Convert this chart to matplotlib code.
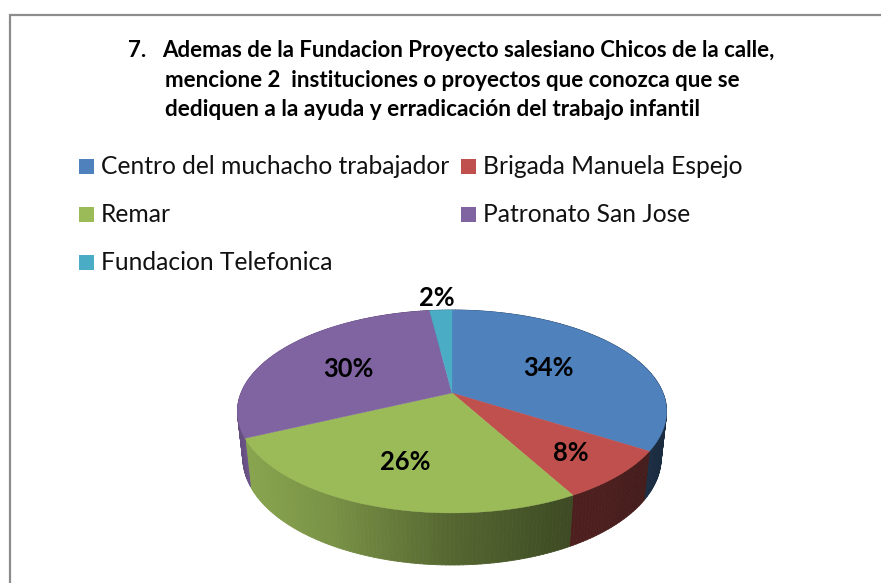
import numpy as np
import matplotlib
matplotlib.use("Agg")
import matplotlib.pyplot as plt
from matplotlib.patches import Rectangle
from matplotlib.collections import PolyCollection
from matplotlib.colors import to_rgb

# ---- data
categories = ["Centro del muchacho trabajador", "Brigada Manuela Espejo", "Remar",
              "Patronato San Jose", "Fundacion Telefonica"]
values = [34, 8, 26, 30, 2]
title_number = "7."
title_lines = ["Ademas de la Fundacion Proyecto salesiano Chicos de la calle,",
               "mencione 2  instituciones o proyectos que conozca que se",
               "dediquen a la ayuda y erradicación del trabajo infantil"]

# ---- style / layout
colors = ["#4F81BD", "#C0504D", "#9BBB59", "#8064A2", "#4BACC6"]
W, H = 881, 583
CX, CY, A, B, K, M, C = 452.0, 393.0, 211.0, 98.1, 0.182, 0.025, 46.9

def project(theta, r=1.0, z=0.0):
    X, Y = r * np.sin(theta), r * np.cos(theta)
    w = 1 + K * Y + M * z
    return CX + A * X / w, CY + (-B * Y + C * z) / w

shade_x = [237, 245, 330, 450, 570, 600, 667]
shade_f = [0.78, 0.88, 0.78, 0.55, 0.40, 0.40, 0.34]

fig = plt.figure(figsize=(W / 100, H / 100), dpi=100, facecolor="white")
ax = fig.add_axes([0, 0, 1, 1])
ax.set_xlim(0, W)
ax.set_ylim(H, 0)
ax.axis("off")

# frame
ax.plot([W, 9.5, 9.5], [14.5, 14.5, H], color="#8c8c8c", lw=1.6, solid_joinstyle="miter")

# pie
fractions = np.array(values, dtype=float) / sum(values)
edges = np.concatenate([[0], np.cumsum(fractions)]) * 2 * np.pi

polys, facecols = [], []
for i, col in enumerate(colors):
    t = np.linspace(edges[i], edges[i + 1], max(int(fractions[i] * 360), 4) + 1)
    xt, yt = project(t)
    xb, yb = project(t, z=1.0)
    rgb = np.array(to_rgb(col))
    for j in range(len(t) - 1):
        polys.append([(xt[j], yt[j]), (xt[j + 1], yt[j + 1]), (xb[j + 1], yb[j + 1]), (xb[j], yb[j])])
        f = np.interp(0.5 * (xt[j] + xt[j + 1]), shade_x, shade_f)
        facecols.append(rgb * f)
ax.add_collection(PolyCollection(polys, facecolors=facecols, edgecolors=facecols, linewidths=0.6))

for i, col in enumerate(colors):
    t = np.linspace(edges[i], edges[i + 1], 200)
    xs, ys = project(t)
    ax.fill(np.r_[CX, xs], np.r_[CY, ys], color=col, lw=0.3)

# percent labels
label_xy = [(548, 368), (571, 453), (405, 462), (348, 369), (437, 298)]
for v, (lx, ly) in zip(values, label_xy):
    ax.text(lx, ly, f"{v}%", ha="center", va="center", fontsize=18.4, fontweight="bold",
            family="Lato", color="black")

# title
tkw = dict(family="Lato", fontweight="bold", color="black", va="baseline", ha="left")
ax.text(128, 57, title_number, fontsize=16, **tkw)
ax.text(162, 57, title_lines[0], fontsize=16, **tkw)
ax.text(165, 87, title_lines[1], fontsize=16, **tkw)
ax.text(165, 116, title_lines[2], fontsize=16.25, **tkw)

# legend
col_x = [79, 461]
row_y = [166.5, 214.5, 262.5]
for i, (name, col) in enumerate(zip(categories, colors)):
    x0, y0 = col_x[i % 2], row_y[i // 2]
    ax.add_patch(Rectangle((x0, y0 - 7.5), 15, 15, facecolor=col, edgecolor="none"))
    ax.text(x0 + 22, y0 + 8, name, family="Lato", fontsize=17.7, color="#111111",
            va="baseline", ha="left")

fig.savefig("out.png", dpi=100, facecolor="white")
